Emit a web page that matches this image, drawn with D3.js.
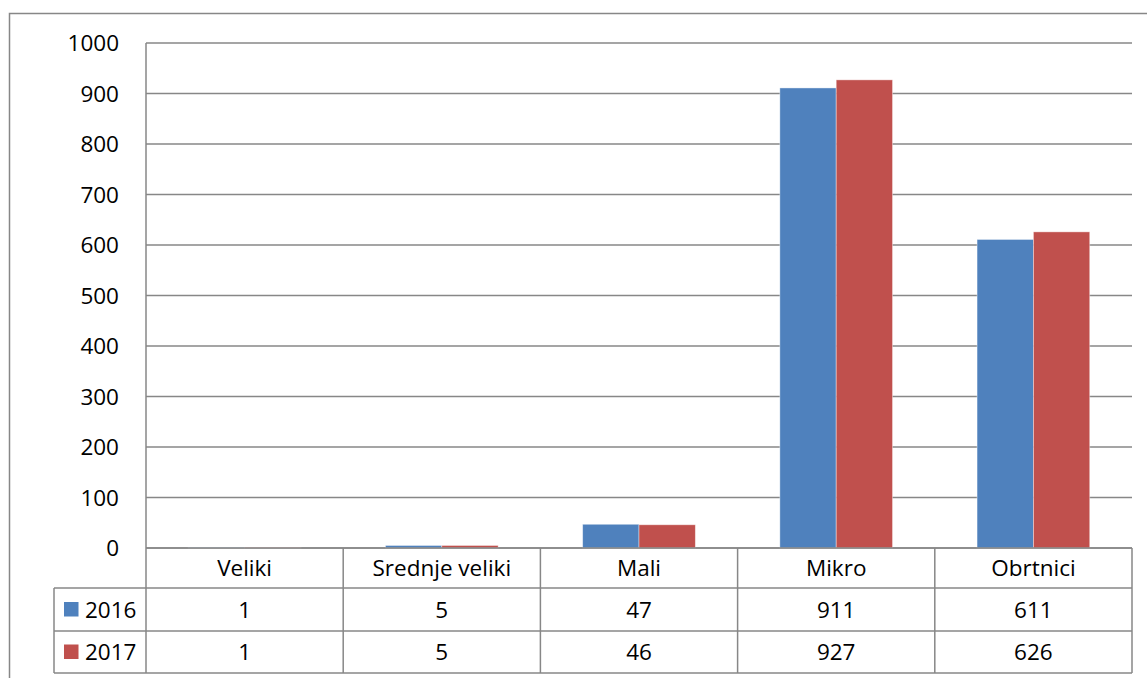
<!DOCTYPE html>
<html>
<head>
<meta charset="utf-8">
<script src="https://cdn.jsdelivr.net/npm/d3@7"></script>
<style>
  body { margin: 0; background: #fff; }
  text { font-family: "Open Sans", sans-serif; fill: #000; }
</style>
</head>
<body>
<svg width="1147" height="678"></svg>
<script>
var categories = ["Veliki", "Srednje veliki", "Mali", "Mikro", "Obrtnici"];
var seriesNames = ["2016", "2017"];
var values2016 = [1, 5, 47, 911, 611];
var values2017 = [1, 5, 46, 927, 626];
var yTicks = [0, 100, 200, 300, 400, 500, 600, 700, 800, 900, 1000];
var colors = ["#4F81BD", "#C0504D"];

var svg = d3.select("svg"),
    width = +svg.attr("width"),
    height = +svg.attr("height");

var grid = "#878787";
var fs = "22.5px";
var plotLeft = 146, plotRight = 1132, plotTop = 43, zeroY = 548;
var rowH = [548, 588, 631, 673];
var legendLeft = 54;

// outer frame
svg.append("rect")
    .attr("x", 9.5).attr("y", 13.5)
    .attr("width", 1150).attr("height", 700)
    .attr("fill", "none").attr("stroke", grid).attr("stroke-width", 1.5);

var x = d3.scaleBand().domain(categories).range([plotLeft, plotRight]);
var x1 = d3.scaleBand().domain(seriesNames).range([0, x.bandwidth()]).paddingOuter(0.75).paddingInner(0);
var y = d3.scaleLinear().domain([0, 1000]).range([zeroY, plotTop]);

// gridlines
svg.append("g").selectAll("line")
    .data(yTicks)
    .enter().append("line")
      .attr("x1", plotLeft).attr("x2", plotRight)
      .attr("y1", function(d) { return y(d); })
      .attr("y2", function(d) { return y(d); })
      .attr("stroke", grid).attr("stroke-width", 1.5);

// y labels
svg.append("g").selectAll("text")
    .data(yTicks)
    .enter().append("text")
      .attr("x", 119)
      .attr("y", function(d) { return y(d); })
      .attr("dy", "0.36em")
      .attr("text-anchor", "end")
      .attr("font-size", fs)
      .text(function(d) { return d; });

// bars
var series = [values2016, values2017];
var groups = svg.append("g").selectAll("g")
    .data(series)
    .enter().append("g")
      .attr("fill", function(d, i) { return colors[i]; });

groups.selectAll("rect")
    .data(function(d, i) { return d.map(function(v, j) { return {v: v, cat: categories[j], s: seriesNames[i]}; }); })
    .enter().append("rect")
      .attr("x", function(d) { return x(d.cat) + x1(d.s); })
      .attr("width", x1.bandwidth())
      .attr("y", function(d) { return y(d.v); })
      .attr("height", function(d) { return zeroY - y(d.v); })
      .attr("stroke", "#ffffff").attr("stroke-opacity", 0.5).attr("stroke-width", 0.8);

// data table
var tbl = svg.append("g").attr("stroke", grid).attr("stroke-width", 1.5);
tbl.append("line").attr("x1", plotLeft).attr("x2", plotRight).attr("y1", rowH[0]).attr("y2", rowH[0]);
[1, 2, 3].forEach(function(i) {
  tbl.append("line").attr("x1", legendLeft).attr("x2", plotRight).attr("y1", rowH[i]).attr("y2", rowH[i]);
});
tbl.append("line").attr("x1", plotLeft).attr("x2", plotLeft).attr("y1", plotTop).attr("y2", rowH[3]);
tbl.append("line").attr("x1", legendLeft).attr("x2", legendLeft).attr("y1", rowH[1]).attr("y2", rowH[3]);
categories.forEach(function(c) {
  var xe = x(c) + x.bandwidth();
  tbl.append("line").attr("x1", xe).attr("x2", xe).attr("y1", rowH[0]).attr("y2", rowH[3]);
});

// category labels
svg.append("g").selectAll("text")
    .data(categories)
    .enter().append("text")
      .attr("x", function(d) { return x(d) + x.bandwidth() / 2; })
      .attr("y", (rowH[0] + rowH[1]) / 2)
      .attr("dy", "0.36em")
      .attr("text-anchor", "middle")
      .attr("font-size", fs)
      .text(function(d) { return d; });

// value rows + legend
series.forEach(function(vals, i) {
  var cy = (rowH[i + 1] + rowH[i + 2]) / 2;
  svg.append("rect")
      .attr("x", 64).attr("y", cy - 7.5)
      .attr("width", 14.5).attr("height", 14.5)
      .attr("fill", colors[i]);
  svg.append("text")
      .attr("x", 85).attr("y", cy).attr("dy", "0.36em")
      .attr("font-size", fs)
      .text(seriesNames[i]);
  svg.append("g").selectAll("text")
      .data(vals)
      .enter().append("text")
        .attr("x", function(d, j) { return x(categories[j]) + x.bandwidth() / 2; })
        .attr("y", cy)
        .attr("dy", "0.36em")
        .attr("text-anchor", "middle")
        .attr("font-size", fs)
        .text(function(d) { return d; });
});
</script>
</body>
</html>
